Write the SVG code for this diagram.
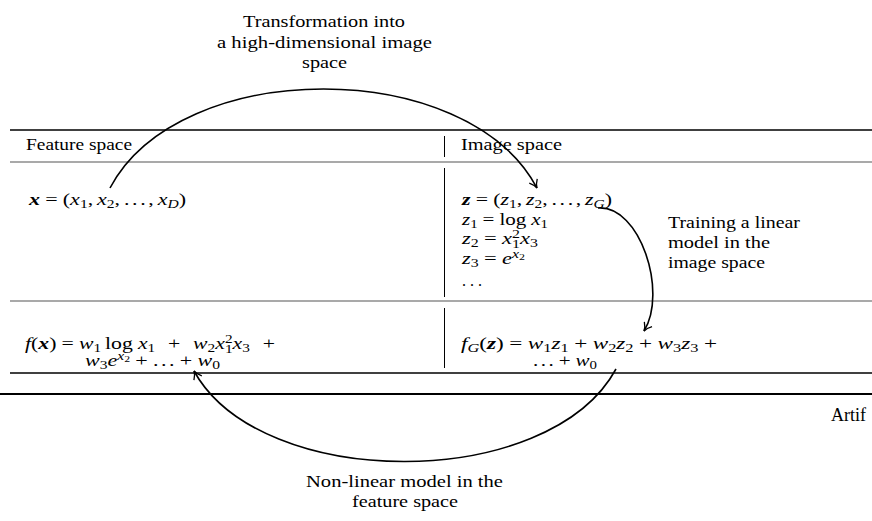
<svg xmlns="http://www.w3.org/2000/svg" width="872" height="521" viewBox="0 0 872 521">
<style>
.t{font-family:"Liberation Serif","Times New Roman",serif;font-size:16px;fill:#000}
.m{font-family:"Liberation Serif","Times New Roman",serif;font-size:17px;fill:#000}
.lb{font-family:"Liberation Serif","Times New Roman",serif;font-size:17px;fill:#000}
.i{font-style:italic}
.b{font-weight:bold}
.s{font-size:12px}
.ss{font-size:9px}
.rule{stroke:#000;stroke-width:1.3;fill:none}
.mid{stroke:#555;stroke-width:1.2;fill:none}
.vr{stroke:#000;stroke-width:1;fill:none}
.arc{stroke:#000;stroke-width:1.6;fill:none;marker-end:url(#ah)}
</style>
<defs>
<marker id="ah" markerUnits="userSpaceOnUse" markerWidth="14" markerHeight="14" viewBox="-10 -7 12 14" refX="0" refY="0" orient="auto">
<path d="M-8,-4.5 C-5,-1.8 -2,-0.4 0,0 C-2,0.4 -5,1.8 -8,4.5" fill="none" stroke="#000" stroke-width="1.3"/>
</marker>
</defs>
<rect width="872" height="521" fill="#fff"/>
<g id="table">
<line class="rule" x1="10" y1="130" x2="872" y2="130"/>
<line class="mid" x1="10" y1="162" x2="872" y2="162"/>
<line class="mid" x1="10" y1="301" x2="872" y2="301"/>
<line class="rule" x1="10" y1="373" x2="872" y2="373"/>
<line stroke="#000" stroke-width="2.2" x1="0" y1="394" x2="872" y2="394"/>
<line class="vr" x1="444.5" y1="136" x2="444.5" y2="157"/>
<line class="vr" x1="444.5" y1="168" x2="444.5" y2="297"/>
<line class="vr" x1="444.5" y1="308" x2="444.5" y2="368"/>
</g>
<g id="feature-header"><text class="t" x="26" y="150" textLength="106" lengthAdjust="spacingAndGlyphs">Feature space</text></g>
<g id="image-header"><text class="t" x="461" y="150" textLength="101" lengthAdjust="spacingAndGlyphs">Image space</text></g>
<g id="feature-def">
<text class="m" x="29" y="205" textLength="157" lengthAdjust="spacingAndGlyphs"><tspan class="b i">x</tspan><tspan dx="4">=</tspan><tspan dx="4">(</tspan><tspan class="i">x</tspan><tspan class="s" dy="3">1</tspan><tspan dy="-3">,</tspan><tspan class="i" dx="3">x</tspan><tspan class="s" dy="3">2</tspan><tspan dy="-3">,</tspan><tspan dx="3">.</tspan><tspan dx="2">.</tspan><tspan dx="2">.</tspan><tspan dx="2">,</tspan><tspan class="i" dx="3">x</tspan><tspan class="s i" dy="3">D</tspan><tspan dy="-3">)</tspan></text>
</g>
<g id="image-def">
<text class="m" x="462" y="205" textLength="150" lengthAdjust="spacingAndGlyphs"><tspan class="b i">z</tspan><tspan dx="4">=</tspan><tspan dx="4">(</tspan><tspan class="i">z</tspan><tspan class="s" dy="3">1</tspan><tspan dy="-3">,</tspan><tspan class="i" dx="3">z</tspan><tspan class="s" dy="3">2</tspan><tspan dy="-3">,</tspan><tspan dx="3">.</tspan><tspan dx="2">.</tspan><tspan dx="2">.</tspan><tspan dx="2">,</tspan><tspan class="i" dx="3">z</tspan><tspan class="s i" dy="3">G</tspan><tspan dy="-3">)</tspan></text>
<text class="m" x="462" y="224.5" textLength="86" lengthAdjust="spacingAndGlyphs"><tspan class="i">z</tspan><tspan class="s" dy="3">1</tspan><tspan dy="-3" dx="4">=</tspan><tspan dx="4">log</tspan><tspan class="i" dx="4">x</tspan><tspan class="s" dy="3">1</tspan></text>
<text class="m" x="462" y="244" textLength="76" lengthAdjust="spacingAndGlyphs"><tspan class="i">z</tspan><tspan class="s" dy="3">2</tspan><tspan dy="-3" dx="4">=</tspan><tspan class="i" dx="4">x</tspan><tspan class="s" dy="-6">2</tspan><tspan class="s" dx="-6" dy="10">1</tspan><tspan class="i" dy="-4">x</tspan><tspan class="s" dy="3">3</tspan></text>
<text class="m" x="462" y="263.5" textLength="63" lengthAdjust="spacingAndGlyphs"><tspan class="i">z</tspan><tspan class="s" dy="3">3</tspan><tspan dy="-3" dx="4">=</tspan><tspan class="i" dx="4">e</tspan><tspan class="s i" dy="-6">x</tspan><tspan class="ss" dy="2">2</tspan></text>
<text class="m" x="462" y="286" textLength="20" lengthAdjust="spacingAndGlyphs">. . .</text>
</g>
<g id="feature-model">
<text class="m" x="25" y="349" textLength="250" lengthAdjust="spacingAndGlyphs"><tspan class="i">f</tspan><tspan>(</tspan><tspan class="b i">x</tspan><tspan>)</tspan><tspan dx="4">=</tspan><tspan class="i" dx="4">w</tspan><tspan class="s" dy="3">1</tspan><tspan dy="-3" dx="3">log</tspan><tspan class="i" dx="4">x</tspan><tspan class="s" dy="3">1</tspan><tspan dy="-3" dx="10">+</tspan><tspan class="i" dx="10">w</tspan><tspan class="s" dy="3">2</tspan><tspan class="i" dy="-3">x</tspan><tspan class="s" dy="-6">2</tspan><tspan class="s" dx="-6" dy="10">1</tspan><tspan class="i" dy="-4">x</tspan><tspan class="s" dy="3">3</tspan><tspan dy="-3" dx="10">+</tspan></text>
<text class="m" x="85" y="366" textLength="135" lengthAdjust="spacingAndGlyphs"><tspan class="i">w</tspan><tspan class="s" dy="3">3</tspan><tspan class="i" dy="-3">e</tspan><tspan class="s i" dy="-6">x</tspan><tspan class="ss" dy="2">2</tspan><tspan dy="4" dx="4">+</tspan><tspan dx="4">.</tspan><tspan dx="2">.</tspan><tspan dx="2">.</tspan><tspan dx="4">+</tspan><tspan class="i" dx="4">w</tspan><tspan class="s" dy="3">0</tspan></text>
</g>
<g id="image-model">
<text class="m" x="461" y="349" textLength="256" lengthAdjust="spacingAndGlyphs"><tspan class="i">f</tspan><tspan class="s i" dy="3">G</tspan><tspan dy="-3">(</tspan><tspan class="b i">z</tspan><tspan>)</tspan><tspan dx="4">=</tspan><tspan class="i" dx="4">w</tspan><tspan class="s" dy="3">1</tspan><tspan class="i" dy="-3">z</tspan><tspan class="s" dy="3">1</tspan><tspan dy="-3" dx="4">+</tspan><tspan class="i" dx="4">w</tspan><tspan class="s" dy="3">2</tspan><tspan class="i" dy="-3">z</tspan><tspan class="s" dy="3">2</tspan><tspan dy="-3" dx="4">+</tspan><tspan class="i" dx="4">w</tspan><tspan class="s" dy="3">3</tspan><tspan class="i" dy="-3">z</tspan><tspan class="s" dy="3">3</tspan><tspan dy="-3" dx="4">+</tspan></text>
<text class="m" x="533" y="366" textLength="64" lengthAdjust="spacingAndGlyphs"><tspan>.</tspan><tspan dx="2">.</tspan><tspan dx="2">.</tspan><tspan dx="4">+</tspan><tspan class="i" dx="4">w</tspan><tspan class="s" dy="3">0</tspan></text>
</g>
<g id="connectors">
<path class="arc" d="M110,188 C180,56 467,56 537,188"/>
<path class="arc" d="M598,208 C640,205 668,292 644,331"/>
<path class="arc" d="M616,369 C549,492 261,492 194,371"/>
</g>
<g id="labels">
<text class="lb" x="324" y="27" text-anchor="middle" textLength="162" lengthAdjust="spacingAndGlyphs">Transformation into</text>
<text class="lb" x="324.5" y="47.5" text-anchor="middle" textLength="215" lengthAdjust="spacingAndGlyphs">a high-dimensional image</text>
<text class="lb" x="324.5" y="68" text-anchor="middle" textLength="45" lengthAdjust="spacingAndGlyphs">space</text>
<text class="t" x="668" y="228" textLength="132" lengthAdjust="spacingAndGlyphs">Training a linear</text>
<text class="t" x="668" y="248" textLength="102" lengthAdjust="spacingAndGlyphs">model in the</text>
<text class="t" x="668" y="268" textLength="97" lengthAdjust="spacingAndGlyphs">image space</text>
<text class="lb" x="404.5" y="487" text-anchor="middle" textLength="197" lengthAdjust="spacingAndGlyphs">Non-linear model in the</text>
<text class="lb" x="405" y="507" text-anchor="middle" textLength="106" lengthAdjust="spacingAndGlyphs">feature space</text>
<text class="lb" x="831" y="421" style="font-size:18px">Artif</text>
</g>
</svg>
